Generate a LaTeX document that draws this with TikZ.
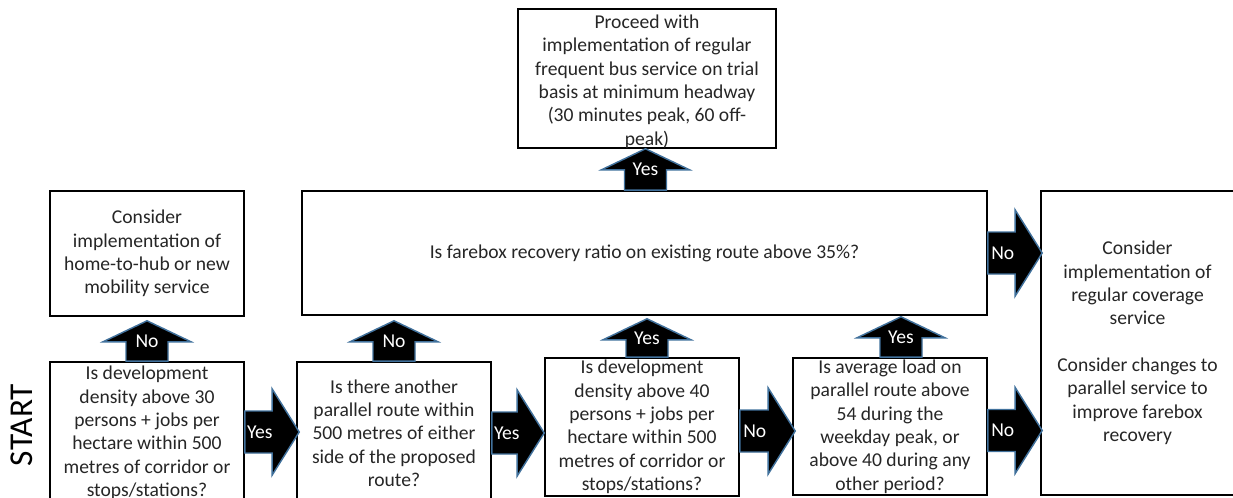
\documentclass[tikz,border=0pt]{standalone}
\usepackage{fontspec}
\setmainfont{Carlito}
\usetikzlibrary{calc,fit}
\definecolor{arrowedge}{RGB}{65,113,156}
\definecolor{txt}{RGB}{38,38,38}

% Block arrow pointing up: #1 base, #2 tip, #3 label, #4 label node name
\newcommand\UpBlock[4]{%
  \draw[blk] (#2) -- ([shift={(44,21)}]#2) -- ([shift={(21,21)}]#2)
    -- ([shift={(21,0)}]#1) -- ([shift={(-21,0)}]#1)
    -- ([shift={(-21,21)}]#2) -- ([shift={(-44,21)}]#2) -- cycle;
  \node[arrlabel] (#4) at ($(#1)!0.5!(#2)$) {#3};}

% Block arrow pointing right: #1 base, #2 tip, #3 label, #4 label node name
\newcommand\RightBlock[4]{%
  \draw[blk] (#2) -- ([shift={(-27,-43)}]#2) -- ([shift={(-27,-21)}]#2)
    -- ([shift={(0,-21)}]#1) -- ([shift={(0,21)}]#1)
    -- ([shift={(-27,21)}]#2) -- ([shift={(-27,43)}]#2) -- cycle;
  \node[arrlabel] (#4) at ([shift={(15,0)}]#1) {#3};}

\begin{document}
\begin{tikzpicture}[x=0.75pt,y=-0.75pt,
  box/.style={draw=black, line width=1.2pt, fill=white, inner sep=0pt},
  boxtext/.style={align=center, text=txt, font=\fontsize{14.7}{17.5}\selectfont, inner sep=0pt},
  blk/.style={fill=black, draw=arrowedge, line width=1.1pt, line join=miter},
  arrlabel/.style={text=white, font=\fontsize{14.7}{17.5}\selectfont, inner sep=0pt}
]
\useasboundingbox (0,0) rectangle (1233,497);
\clip (0,0) rectangle (1233,497);

% boxes
\node[box, fit={(518,9) (776,148)}] (tp) {};
\node[box, fit={(50,191) (244,316)}] (lb) {};
\node[box, fit={(302,191) (987,315)}] (far) {};
\node[box, fit={(1041,191) (1235,495)}] (rb) {};
\node[box, fit={(50,362) (244,504)}] (b1) {};
\node[box, fit={(297,362) (491,504)}] (b2) {};
\node[box, fit={(545,358) (739,496)}] (b3) {};
\node[box, fit={(793,358) (987,495)}] (b4) {};

% box texts
\node[boxtext] (tptext) at ($(tp.center)+(0,3)$) {Proceed with\\implementation of regular\\frequent bus service on trial\\basis at minimum headway\\(30 minutes peak, 60 off-\\peak)};
\node[boxtext] (lbtext) at (lb.center) {Consider\\implementation of\\home-to-hub or new\\mobility service};
\node[boxtext] (fartext) at (far.center) {Is farebox recovery ratio on existing route above 35\%?};
\node[boxtext] (rbtext) at ($(rb.center)+(-0.5,0)$) {Consider\\implementation of\\regular coverage\\service\\[17.5pt]Consider changes to\\parallel service to\\improve farebox\\recovery};
\node[boxtext] (b1text) at (b1.center) {Is development\\density above 30\\persons + jobs per\\hectare within 500\\metres of corridor or\\stops/stations?};
\node[boxtext] (b2text) at (b2.center) {Is there another\\parallel route within\\500 metres of either\\side of the proposed\\route?};
\node[boxtext] (b3text) at (b3.center) {Is development\\density above 40\\persons + jobs per\\hectare within 500\\metres of corridor or\\stops/stations?};
\node[boxtext] (b4text) at (b4.center) {Is average load on\\parallel route above\\54 during the\\weekday peak, or\\above 40 during any\\other period?};

\node[rotate=90, text=black, font=\fontsize{25}{30}\selectfont, inner sep=0pt] (start) at (22,425) {START};

% arrow end points
\coordinate (u1b) at (b1.north);
\coordinate (u1t) at ($(u1b |- lb.south)+(0,4)$);
\coordinate (u2b) at (b2.north);
\coordinate (u2t) at ($(u2b |- far.south)+(0,5)$);
\coordinate (u3b) at ($(b3.north)+(5,0)$);
\coordinate (u3t) at ($(u3b |- far.south)+(0,3)$);
\coordinate (u4b) at ($(b4.north)+(11,0)$);
\coordinate (u4t) at ($(u4b |- far.south)+(0,1)$);
\coordinate (u5b) at ($(far.north)+(1,0)$);
\coordinate (u5t) at (u5b |- tp.south);

\coordinate (r1b) at ($(b1.east)+(0,-1)$);
\coordinate (r1t) at ($(b2.west |- r1b)+(3,0)$);
\coordinate (r2b) at (b2.east);
\coordinate (r2t) at (b3.west |- r2b);
\coordinate (r3b) at ($(b3.east)+(0,4)$);
\coordinate (r3t) at ($(b4.west |- r3b)+(3,0)$);
\coordinate (r4b) at (far.east);
\coordinate (r4t) at ($(rb.west |- r4b)+(2,0)$);
\coordinate (r5b) at ($(b4.east)+(0,4)$);
\coordinate (r5t) at ($(rb.west |- r5b)+(2,0)$);

% block arrows
\UpBlock{u1b}{u1t}{No}{l1}
\UpBlock{u2b}{u2t}{No}{l2}
\UpBlock{u3b}{u3t}{Yes}{l3}
\UpBlock{u4b}{u4t}{Yes}{l4}
\UpBlock{u5b}{u5t}{Yes}{l5}
\RightBlock{r1b}{r1t}{Yes}{l6}
\RightBlock{r2b}{r2t}{Yes}{l7}
\RightBlock{r3b}{r3t}{No}{l8}
\RightBlock{r4b}{r4t}{No}{l9}
\RightBlock{r5b}{r5t}{No}{l10}
\end{tikzpicture}
\end{document}
